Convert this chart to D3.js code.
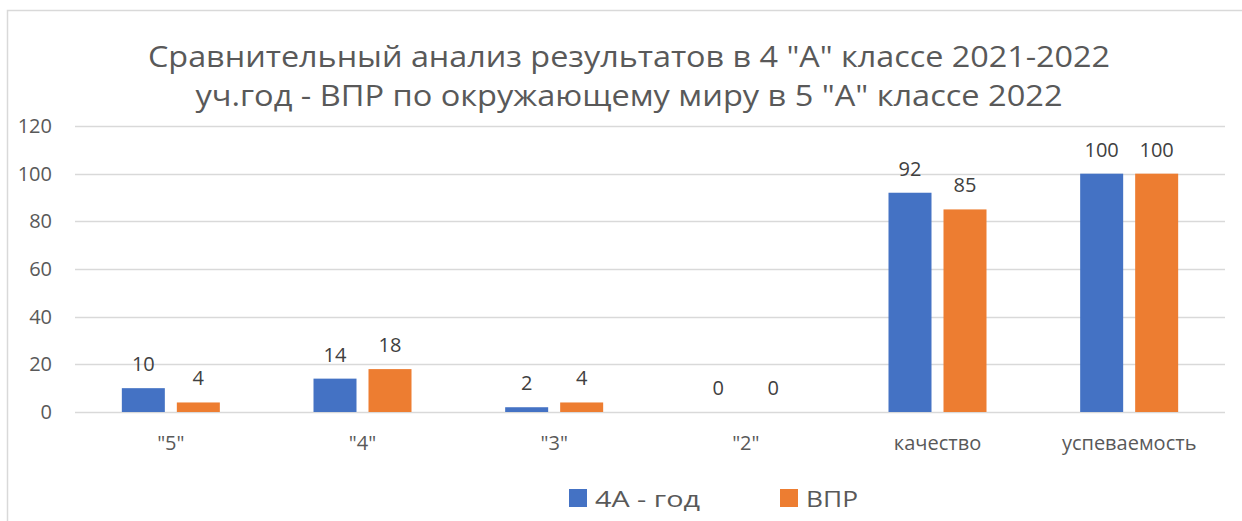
<!DOCTYPE html>
<html><head><meta charset="utf-8">
<script src="https://cdn.jsdelivr.net/npm/d3@7"></script>
<style>body{margin:0;background:#fff}svg{display:block}</style>
</head><body>
<script>
const categories = ['"5"', '"4"', '"3"', '"2"', 'качество', 'успеваемость'];
const seriesNames = ['4А - год', 'ВПР'];
const series1 = [10, 14, 2, 0, 92, 100];
const series2 = [4, 18, 4, 0, 85, 100];
const yTicks = [0, 20, 40, 60, 80, 100, 120];
const colors = ['#4472C4', '#ED7D31'];
const titleLines = ['Сравнительный анализ результатов в 4 "А" классе 2021-2022', 'уч.год - ВПР по окружающему миру в 5 "А" классе 2022'];

const W = 1242, H = 521;
const font = "'Open Sans', 'Noto Sans', sans-serif";
const svg = d3.select('body').append('svg').attr('width', W).attr('height', H);

// chart border (partially visible)
svg.append('path').attr('d', 'M7.5,' + (H + 5) + ' V10.5 H' + (W + 5))
  .attr('fill', 'none').attr('stroke', '#d9d9d9').attr('stroke-width', 1.5);

const pLeft = 75, pRight = 1225, pTop = 126, pBottom = 412;
const x = d3.scaleBand().domain(categories).range([pLeft, pRight]);
const y = d3.scaleLinear().domain([0, 120]).range([pBottom, pTop]);

// title
svg.append('g').selectAll('text').data(titleLines).join('text')
  .attr('x', 629).attr('y', (d, i) => 67 + i * 39)
  .attr('text-anchor', 'middle').attr('fill', '#595959')
  .attr('font-family', font).attr('font-weight', 400).attr('font-size', 30)
  .attr('textLength', (d, i) => i === 0 ? 962 : 867).attr('lengthAdjust', 'spacingAndGlyphs')
  .text(d => d);

// gridlines
svg.append('g').selectAll('line').data(yTicks).join('line')
  .attr('x1', pLeft).attr('x2', pRight)
  .attr('y1', d => Math.round(y(d)) + 0.5).attr('y2', d => Math.round(y(d)) + 0.5)
  .attr('stroke', '#d9d9d9').attr('stroke-width', 1.5);

// y axis labels
const yAxis = d3.axisLeft(y).tickValues(yTicks).tickSize(0).tickPadding(0);
const ya = svg.append('g').attr('transform', 'translate(52,0)').call(yAxis);
ya.select('.domain').remove();
ya.selectAll('text').attr('font-family', font).attr('font-size', 20).attr('fill', '#595959');

// x axis labels
const xAxis = d3.axisBottom(x).tickSize(0).tickPadding(0);
const xa = svg.append('g').attr('transform', 'translate(0,450)').call(xAxis);
xa.select('.domain').remove();
xa.selectAll('text').attr('dy', 0).attr('font-family', font).attr('font-size', 20).attr('fill', '#595959');

// bars
const barW = 43, gap = 12;
const data = [series1, series2];
data.forEach((vals, si) => {
  const g = svg.append('g');
  const bx = c => x(c) + x.bandwidth() / 2 + (si === 0 ? -(barW + gap / 2) : gap / 2);
  g.selectAll('rect').data(categories).join('rect')
    .attr('x', c => bx(c))
    .attr('y', (c, i) => y(vals[i]))
    .attr('width', barW)
    .attr('height', (c, i) => y(0) - y(vals[i]))
    .attr('fill', colors[si]);
  g.selectAll('text').data(categories).join('text')
    .attr('x', c => bx(c) + barW / 2)
    .attr('y', (c, i) => y(vals[i]) - 17)
    .attr('text-anchor', 'middle')
    .attr('font-family', font).attr('font-size', 20).attr('fill', '#404040')
    .text((c, i) => vals[i]);
});

// legend
const legX = [569, 780];
const legW = [105, 52];
const leg = svg.append('g');
seriesNames.forEach((n, i) => {
  leg.append('rect').attr('x', legX[i]).attr('y', 489).attr('width', 18).attr('height', 18).attr('fill', colors[i]);
  leg.append('text').attr('x', legX[i] + 26).attr('y', 507)
    .attr('font-family', font).attr('font-size', 22).attr('fill', '#595959')
    .attr('textLength', legW[i]).attr('lengthAdjust', 'spacingAndGlyphs').text(n);
});
</script>
</body></html>
